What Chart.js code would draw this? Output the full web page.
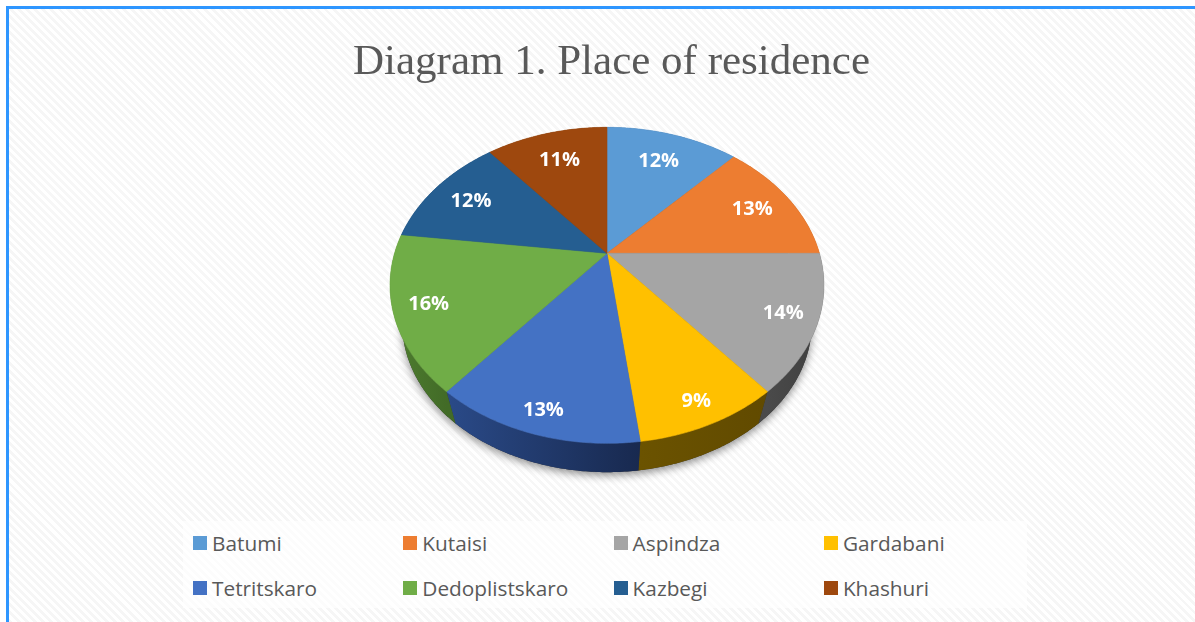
<!DOCTYPE html>
<html>
<head>
<meta charset="utf-8">
<title>Diagram 1. Place of residence</title>
<script src="https://cdn.jsdelivr.net/npm/chart.js@4"></script>
<style>
    html, body { margin: 0; padding: 0; background: #fff; }
    #frame {
        position: absolute; left: 6px; top: 6px; width: 1189px; height: 616px;
        box-sizing: border-box; border-top: 3px solid #2e96ff; border-left: 3px solid #2e96ff;
        background: repeating-linear-gradient(45deg, #f6f6f6 0, #f6f6f6 2.8px, #fff 2.8px, #fff 5.7px);
        overflow: hidden;
    }
    #plotBox { position: absolute; left: 26px; top: 112px; width: 1126px; height: 370px; background: rgba(255,255,255,.12); }
    #legendBox {
        position: absolute; left: 174px; top: 512px; width: 844px; height: 87px;
        background: rgba(255,255,255,.65);
    }
    .item { position: absolute; font: 20.8px "Open Sans", sans-serif; color: #595959; white-space: nowrap; line-height: 26px; }
    .item i { position: absolute; left: 0; top: 6px; width: 14px; height: 14px; }
    .item span { position: absolute; left: 19px; top: 0; }
    #c { position: absolute; left: 0; top: 0; }
</style>
</head>
<body>
<div id="frame">
    <div id="plotBox"></div>
    <div id="legendBox"></div>
</div>
<canvas id="c" width="1195" height="622"></canvas>
<script>
// данные диаграммы
const titleText = 'Diagram 1. Place of residence';
const places = ['Batumi', 'Kutaisi', 'Aspindza', 'Gardabani', 'Tetritskaro', 'Dedoplistskaro', 'Kazbegi', 'Khashuri'];
const shares = [12, 13, 14, 9, 13, 16, 12, 11];
const faceColors = ['#5b9bd5', '#ed7d31', '#a5a5a5', '#ffc000', '#4472c4', '#70ad47', '#255e91', '#9e480e'];
const wallFrom = ['#365d80', '#8e4b1d', '#4a4a4a', '#6b5300', '#2a4a88', '#4c7a2e', '#163855', '#5f2b08'];
const wallTo = ['#365d80', '#8e4b1d', '#3f3f3f', '#614a00', '#18294f', '#426b27', '#163855', '#5f2b08'];

// параметры перспективы (круг -> наклонный диск)
const tilt = 0.2026, stretchX = 1.29, stretchY = 0.92, shiftX = -4.5;
const wallScale = 0.944, vanishY = 705;

function project(arc, theta, rho) {
    const u = rho * Math.sin(theta), v = rho * Math.cos(theta);
    const w = 1 + tilt * v;
    return {
        x: arc.x + shiftX + arc.outerRadius * stretchX * u / w,
        y: arc.y - arc.outerRadius * stretchY * v / w
    };
}

function toWall(arc, p) {
    return {
        x: arc.x + shiftX + (p.x - arc.x - shiftX) * wallScale,
        y: arc.y + vanishY + (p.y - arc.y - vanishY) * wallScale
    };
}

// угол элемента дуги считаем от верхней точки по часовой
function rimPoints(arc) {
    const a = arc.startAngle + Math.PI / 2, b = arc.endAngle + Math.PI / 2;
    const pts = [];
    const n = Math.max(2, Math.ceil((b - a) * 90));
    for (let i = 0; i <= n; i++) pts.push(project(arc, a + (b - a) * i / n, 1));
    return pts;
}

function tracePoly(ctx, pts) {
    ctx.beginPath();
    pts.forEach((p, i) => i ? ctx.lineTo(p.x, p.y) : ctx.moveTo(p.x, p.y));
    ctx.closePath();
}

const tiltedPie = {
    id: 'tiltedPie',
    beforeDatasetsDraw(chart) {
        const ctx = chart.ctx;
        const arcs = chart.getDatasetMeta(0).data;
        ctx.save();

        // тень под диском
        let all = [];
        arcs.forEach(arc => { all = all.concat(rimPoints(arc).map(p => toWall(arc, p))); });
        ctx.shadowColor = 'rgba(0,0,0,.45)';
        ctx.shadowBlur = 9;
        ctx.shadowOffsetY = 3;
        ctx.fillStyle = '#333';
        tracePoly(ctx, all);
        ctx.fill();
        ctx.shadowColor = 'transparent';

        // боковая стенка
        arcs.forEach((arc, i) => {
            const rim = rimPoints(arc);
            const low = rim.map(p => toWall(arc, p)).reverse();
            const g = ctx.createLinearGradient(rim[0].x, 0, rim[rim.length - 1].x, 0);
            g.addColorStop(0, wallTo[i]);
            g.addColorStop(1, wallFrom[i]);
            ctx.fillStyle = g;
            tracePoly(ctx, rim.concat(low));
            ctx.fill();
        });

        // верхняя грань
        arcs.forEach((arc, i) => {
            const apex = { x: arc.x + shiftX, y: arc.y };
            ctx.fillStyle = faceColors[i];
            ctx.strokeStyle = faceColors[i];
            ctx.lineWidth = 0.6;
            tracePoly(ctx, [apex].concat(rimPoints(arc)));
            ctx.fill();
            ctx.stroke();
        });

        // подписи процентов
        ctx.font = 'bold 20px "Open Sans", sans-serif';
        ctx.fillStyle = '#fff';
        ctx.textAlign = 'center';
        ctx.textBaseline = 'middle';
        arcs.forEach((arc, i) => {
            const mid = (arc.startAngle + arc.endAngle) / 2 + Math.PI / 2;
            const p = project(arc, mid, 0.82 - 0.07 * Math.cos(mid));
            ctx.fillText(shares[i] + '%', p.x, p.y + 1);
        });
        ctx.restore();
        return false;
    }
};

new Chart(document.getElementById('c'), {
    type: 'pie',
    data: {
        labels: places,
        datasets: [{ data: shares, backgroundColor: faceColors, borderWidth: 0 }]
    },
    options: {
        responsive: false,
        animation: false,
        layout: { padding: { left: 28, right: 0, top: 0, bottom: 204 } },
        plugins: {
            legend: { display: false },
            tooltip: { enabled: false },
            title: {
                display: true,
                text: titleText,
                color: '#595959',
                font: { family: '"Liberation Serif", serif', size: 43, weight: 'normal', lineHeight: 1.2 },
                padding: { top: 37, bottom: 0 }
            }
        }
    },
    plugins: [tiltedPie]
});

// легенда: 4 колонки в 2 ряда
const legendBox = document.getElementById('legendBox');
places.forEach((name, i) => {
    const el = document.createElement('div');
    el.className = 'item';
    el.style.left = (10 + (i % 4) * 210.3) + 'px';
    el.style.top = (9 + Math.floor(i / 4) * 45) + 'px';
    const box = document.createElement('i');
    box.style.background = faceColors[i];
    const txt = document.createElement('span');
    txt.textContent = name;
    el.appendChild(box);
    el.appendChild(txt);
    legendBox.appendChild(el);
});
</script>
</body>
</html>
